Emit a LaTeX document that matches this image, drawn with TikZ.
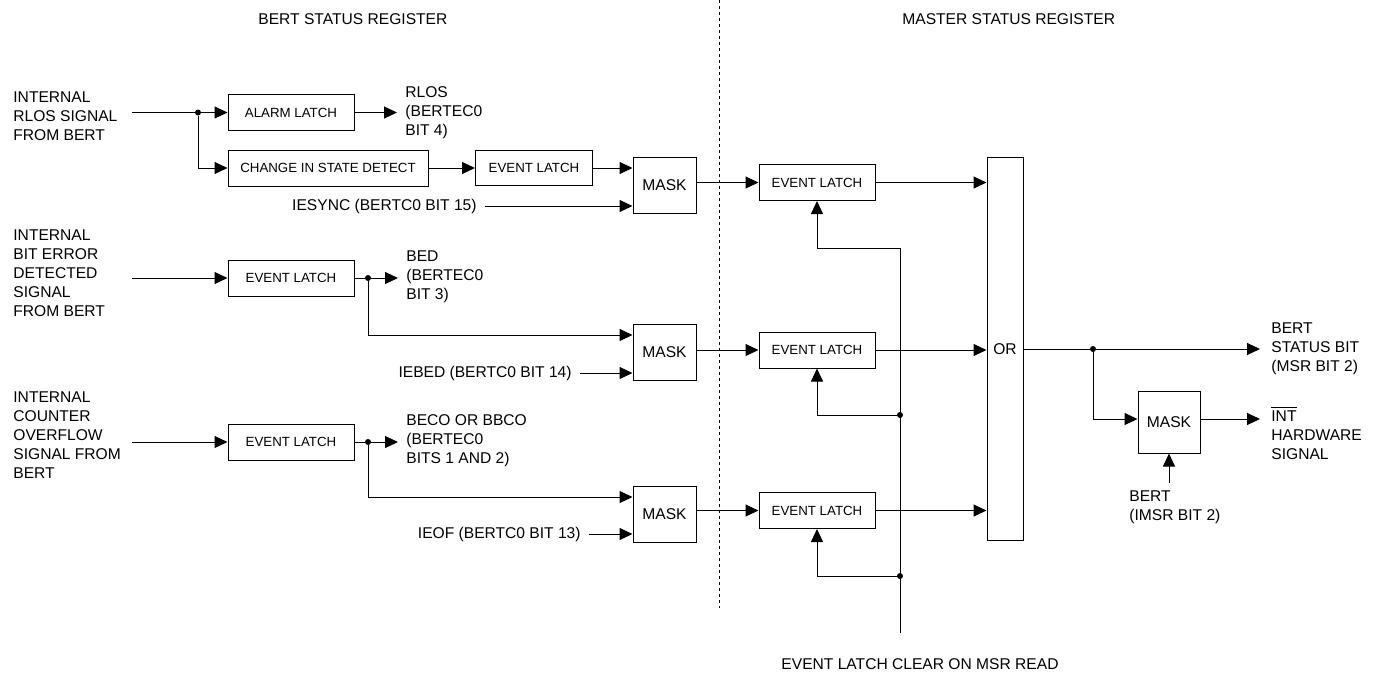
\documentclass[tikz,border=0pt]{standalone}
\usepackage{fontspec}
\setmainfont{Liberation Sans}
\usepackage{tikz}
\usetikzlibrary{arrows.meta}

\newcommand{\lblfont}{\fontsize{7.8}{9.5}\selectfont}
\newcommand{\boxfont}{\fontsize{6.65}{8}\selectfont}

\begin{document}
\begin{tikzpicture}[
  x=0.5pt, y=-0.5pt,
  lbl/.style={align=left, inner sep=0pt, font=\lblfont},
  outlbl/.style={align=left, inner xsep=4pt, inner ysep=0pt, font=\lblfont},
  blk/.style={rectangle, draw, line width=0.5pt, inner sep=0pt, text centered,
              minimum width=63pt, minimum height=18pt, font=\boxfont},
  maskbox/.style={rectangle, draw, line width=0.5pt, inner sep=0pt, text centered,
              minimum width=31.5pt, minimum height=28pt, font=\lblfont},
  jdot/.style={circle, fill, inner sep=0pt, minimum size=3pt},
  wire/.style={line width=0.5pt},
  arr/.style={-{Triangle[length=6.5pt, width=6pt]}, line width=0.5pt}
]
\useasboundingbox (0,0) rectangle (1382,677);

\node[lbl, anchor=west] (tbsr) at (258,19) {BERT STATUS REGISTER};
\node[lbl, anchor=west] (tmsr) at (902,19) {MASTER STATUS REGISTER};
\draw[line width=0.5pt, dash pattern=on 1.6pt off 1.4pt] (719.5,0) -- (719.5,608);

\node[lbl, anchor=north west] (src1) at (13,91) {INTERNAL\\RLOS SIGNAL\\FROM BERT};
\coordinate (in1) at (132,112.5);
\node[jdot] (j1) at (198,112.5) {};
\node[blk] (alarm) at (291,112.5) {ALARM LATCH};
\node[outlbl, anchor=west] (rlos) at (397,112.5) {RLOS\\(BERTEC0\\BIT 4)};
\node[blk, minimum width=100pt] (cisd) at (328,168) {CHANGE IN STATE DETECT};
\node[blk, minimum width=58.5pt, minimum height=17.5pt] (evl1) at (534,168) {EVENT LATCH};
\node[maskbox] (mask1) at (664.5,185) {MASK};
\node[lbl, anchor=east, inner xsep=4pt] (iesync) at (485,206) {IESYNC (BERTC0 BIT 15)};

\node[lbl, anchor=north west] (src2) at (13,229.5) {INTERNAL\\BIT ERROR\\DETECTED\\SIGNAL\\FROM BERT};
\coordinate (in2) at (132,278);
\node[blk] (evl2) at (291,278) {EVENT LATCH};
\node[jdot] (j2) at (368,278) {};
\node[outlbl, anchor=west] (bed) at (398,277) {BED\\(BERTEC0\\BIT 3)};
\node[maskbox] (mask2) at (664.5,352) {MASK};
\node[lbl, anchor=east, inner xsep=4pt] (iebed) at (580,373) {IEBED (BERTC0 BIT 14)};

\node[lbl, anchor=north west] (src3) at (13,391.5) {INTERNAL\\COUNTER\\OVERFLOW\\SIGNAL FROM\\BERT};
\coordinate (in3) at (132,442);
\node[blk] (evl3) at (291,442) {EVENT LATCH};
\node[jdot] (j3) at (368,442) {};
\node[outlbl, anchor=west] (beco) at (398,441) {BECO OR BBCO\\(BERTEC0\\BITS 1 AND 2)};
\node[maskbox] (mask3) at (664.5,514) {MASK};
\node[lbl, anchor=east, inner xsep=4pt] (ieof) at (589,534) {IEOF (BERTC0 BIT 13)};

\node[blk, minimum width=58pt] (msr1) at (817,182.5) {EVENT LATCH};
\node[blk, minimum width=58pt] (msr2) at (817,350) {EVENT LATCH};
\node[blk, minimum width=58pt] (msr3) at (817,510.5) {EVENT LATCH};
\node[maskbox, minimum width=18pt, minimum height=191.5pt] (orgate) at (1005,349.2) {OR};
\coordinate (clr) at (900,633);
\coordinate (ctop) at (900,248);
\node[jdot] (d2) at (900,415) {};
\node[jdot] (d3) at (900,576) {};
\node[lbl] (clrlbl) at (920,664) {EVENT LATCH CLEAR ON MSR READ};
\node[jdot] (j4) at (1093,349) {};
\node[outlbl, anchor=west, inner xsep=5.5pt] (stat) at (1260,349) {BERT\\STATUS BIT\\(MSR BIT 2)};
\node[maskbox, minimum width=31pt, minimum height=31pt] (mask4) at (1169,422) {MASK};
\node[outlbl, anchor=north west, inner xsep=5.5pt] (intl) at (1260,406) {$\overline{\mbox{INT}}$\\HARDWARE\\SIGNAL};
\node[lbl, anchor=north west, inner ysep=3.5pt] (bimsr) at (1129,483) {BERT\\(IMSR BIT 2)};

\draw[wire] (in1) -- (j1);
\draw[arr] (j1) -- (alarm);
\draw[arr] (j1) |- (cisd);
\draw[arr] (alarm) -- (alarm -| rlos.west);
\draw[arr] (cisd) -- (evl1);
\draw[arr] (evl1) -- (evl1 -| mask1.west);
\draw[arr] (iesync) -- (iesync -| mask1.west);
\draw[arr] (mask1.east |- msr1) -- (msr1);
\draw[arr] (msr1) -- (msr1 -| orgate.west);

\draw[arr] (in2) -- (evl2);
\draw[wire] (evl2) -- (j2);
\draw[arr] (j2) -- (j2 -| bed.west);
\draw[arr] (j2) |- ([yshift=8.5pt]mask2.west);
\draw[arr] (iebed) -- (iebed -| mask2.west);
\draw[arr] (mask2.east |- msr2) -- (msr2);
\draw[arr] (msr2) -- (msr2 -| orgate.west);

\draw[arr] (in3) -- (evl3);
\draw[wire] (evl3) -- (j3);
\draw[arr] (j3) -- (j3 -| beco.west);
\draw[arr] (j3) |- ([yshift=8.5pt]mask3.west);
\draw[arr] (ieof) -- (ieof -| mask3.west);
\draw[arr] (mask3.east |- msr3) -- (msr3);
\draw[arr] (msr3) -- (msr3 -| orgate.west);

\draw[arr] (clr) -- (ctop) -| (msr1);
\draw[arr] (d2) -| (msr2);
\draw[arr] (d3) -| (msr3);

\draw[wire] (orgate.east |- j4) -- (j4);
\draw[arr] (j4) -- (j4 -| stat.west);
\draw[arr] (j4) |- ([yshift=1.5pt]mask4.west);
\draw[arr] ([yshift=1.5pt]mask4.east) -- ([yshift=1.5pt]mask4.east -| intl.west);
\draw[arr] (bimsr.north -| mask4.south) -- (mask4.south);
\end{tikzpicture}
\end{document}
